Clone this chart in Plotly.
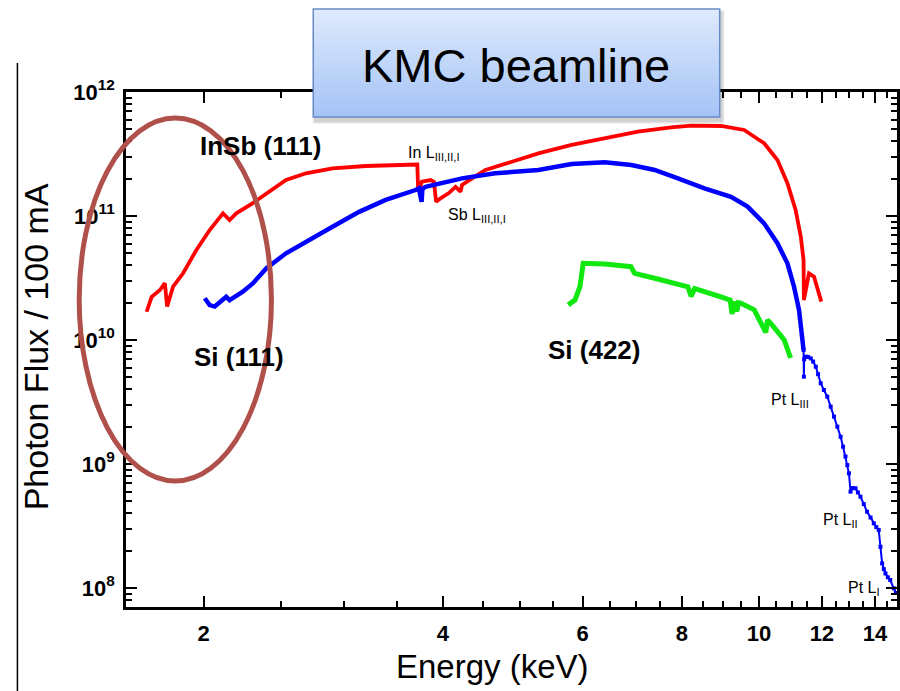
import plotly.graph_objects as go

# ---------------- data ----------------
insb111_energy = [1.695, 1.720, 1.762, 1.787, 1.799, 1.830, 1.884, 1.958, 2.035, 2.115,
                  2.156, 2.198, 2.306, 2.397, 2.467, 2.539, 2.690, 2.905, 3.199, 3.696,
                  3.715, 3.724, 3.764, 3.860, 3.898, 3.923, 3.974, 4.070, 4.150, 4.210,
                  4.229, 4.353, 4.525, 4.885, 5.276, 5.810, 6.396, 7.042, 7.754, 8.214,
                  8.958, 9.581, 10.15, 10.55, 10.86, 11.12, 11.29, 11.38, 11.39, 11.56,
                  11.73, 11.98]
insb111_flux = [1.69e10, 2.23e10, 2.53e10, 2.87e10, 1.86e10, 2.69e10, 3.45e10, 5.32e10, 7.71e10, 1.05e11,
                9.28e10, 1.05e11, 1.27e11, 1.52e11, 1.72e11, 1.95e11, 2.21e11, 2.42e11, 2.53e11, 2.58e11,
                2.60e11, 1.57e11, 1.89e11, 1.95e11, 1.89e11, 1.30e11, 1.39e11, 1.53e11, 1.72e11, 1.57e11,
                1.78e11, 2.01e11, 2.35e11, 2.74e11, 3.20e11, 3.74e11, 4.24e11, 4.79e11, 5.19e11, 5.35e11,
                5.32e11, 4.94e11, 3.86e11, 2.83e11, 1.84e11, 1.12e11, 6.81e10, 4.42e10, 2.10e10, 3.45e10,
                3.24e10, 2.04e10]

si111_energy = [2.006, 2.035, 2.065, 2.135, 2.156, 2.240, 2.306, 2.397, 2.539, 2.690,
                2.905, 3.138, 3.389, 3.696, 3.732, 3.761, 3.770, 3.804, 4.229, 4.656,
                5.276, 5.810, 6.396, 6.907, 7.391, 7.907, 8.538, 9.222, 9.675, 10.15,
                10.55, 10.86, 11.07, 11.23, 11.34, 11.38]
si111_flux = [2.17e10, 1.91e10, 1.86e10, 2.23e10, 2.10e10, 2.45e10, 2.86e10, 3.78e10, 5.00e10, 6.21e10,
              8.20e10, 1.08e11, 1.35e11, 1.62e11, 1.67e11, 1.30e11, 1.66e11, 1.72e11, 2.01e11, 2.21e11,
              2.35e11, 2.63e11, 2.71e11, 2.58e11, 2.35e11, 2.01e11, 1.67e11, 1.43e11, 1.19e11, 8.73e10,
              6.03e10, 4.15e10, 2.69e10, 1.75e10, 1.06e10, 8.30e9]

si111_tail_energy = [11.38, 11.39, 11.40, 11.45, 11.53, 11.62, 11.70, 11.79, 11.87, 11.96,
                     12.07, 12.19, 12.31, 12.43, 12.55, 12.67, 12.76, 12.85, 12.92, 12.98,
                     13.04, 13.13, 13.23, 13.32, 13.42, 13.55, 13.68, 13.82, 13.95, 14.05,
                     14.15, 14.22, 14.29, 14.36, 14.43, 14.53, 14.63, 14.78, 14.87]
si111_tail_flux = [8.30e9, 5.06e9, 7.00e9, 7.34e9, 7.30e9, 7.11e9, 6.70e9, 6.09e9, 5.30e9, 4.48e9,
                   3.95e9, 3.49e9, 2.90e9, 2.41e9, 2.00e9, 1.66e9, 1.38e9, 1.15e9, 9.80e8, 8.41e8,
                   5.98e8, 6.40e8, 6.37e8, 5.90e8, 5.45e8, 4.75e8, 4.12e8, 3.70e8, 3.32e8, 3.10e8,
                   2.94e8, 2.15e8, 1.58e8, 1.42e8, 1.31e8, 1.22e8, 1.16e8, 9.95e7, 9.12e7]

si422_energy = [5.753, 5.866, 5.952, 5.979, 6.008, 6.396, 6.900, 6.930, 6.976, 7.391,
                7.800, 8.138, 8.214, 8.300, 8.958, 9.200, 9.250, 9.300, 9.380, 9.420,
                9.491, 9.863, 10.20, 10.25, 10.35, 10.76, 10.96]
si422_flux = [1.92e10, 2.10e10, 2.69e10, 3.67e10, 4.15e10, 4.10e10, 3.90e10, 3.70e10, 3.45e10, 3.15e10,
              2.90e10, 2.69e10, 2.25e10, 2.60e10, 2.23e10, 2.10e10, 1.62e10, 2.05e10, 1.70e10, 2.00e10,
              1.98e10, 1.75e10, 1.15e10, 1.45e10, 1.36e10, 1.00e10, 7.16e9]

x_tick_vals = [2, 4, 6, 8, 10, 12, 14]
x_tick_text = ["2", "4", "6", "8", "10", "12", "14"]
x_minor_vals = [2.5, 3, 3.5, 4.5, 5, 5.5, 6.5, 7, 7.5, 8.5, 9, 9.5,
                10.5, 11, 11.5, 12.5, 13, 13.5, 14.5]
y_tick_vals = [1e8, 1e9, 1e10, 1e11, 1e12]
y_tick_text = ["10<sup>8</sup>", "10<sup>9</sup>", "10<sup>10</sup>", "10<sup>11</sup>", "10<sup>12</sup>"]
y_minor_vals = [m * 10 ** e for e in range(7, 12) for m in range(2, 10)]

# ---------------- layout geometry helpers (pixels -> paper) ----------------
W, H = 900, 691
L, R, T, B = 126, 0, 92, 84
PW, PH = W - L - R, H - T - B


def px(x):
    return (x - L) / PW


def py(y):
    return (H - B - y) / PH


FONT = "Liberation Sans, Arial, sans-serif"

fig = go.Figure()
fig.add_trace(go.Scatter(x=insb111_energy, y=insb111_flux, mode="lines",
                         line=dict(color="#ff0000", width=3.8), name="InSb (111)"))
fig.add_trace(go.Scatter(x=si111_energy, y=si111_flux, mode="lines",
                         line=dict(color="#0000ff", width=4.5), name="Si (111)"))
fig.add_trace(go.Scatter(x=si111_tail_energy, y=si111_tail_flux, mode="lines+markers",
                         line=dict(color="#0000ff", width=2),
                         marker=dict(symbol="square", size=4, color="#0000ff"),
                         name="Si (111) tail"))
fig.add_trace(go.Scatter(x=si422_energy, y=si422_flux, mode="lines",
                         line=dict(color="#10e810", width=5), name="Si (422)"))

axis_common = dict(
    type="log", showgrid=False, zeroline=False, showline=True, linewidth=2.5,
    linecolor="black", mirror="ticks", ticks="inside", ticklen=11, tickwidth=2,
    tickcolor="black",
    tickfont=dict(family=FONT, size=22, color="black", weight="bold"),
)
fig.update_xaxes(range=[0.20322, 1.17376], tickvals=x_tick_vals, ticktext=x_tick_text,
                 minor=dict(tickvals=x_minor_vals, ticks="inside", ticklen=6, tickwidth=2,
                            tickcolor="black"),
                 ticklabelstandoff=5, **axis_common)
fig.update_yaxes(range=[7.8468, 12.0], tickvals=y_tick_vals, ticktext=y_tick_text,
                 minor=dict(tickvals=y_minor_vals, ticks="inside", ticklen=6, tickwidth=2,
                            tickcolor="black"),
                 ticklabelstandoff=4, **axis_common)

shapes = []
# slide edge line
shapes.append(dict(type="line", xref="paper", yref="paper", x0=px(17), x1=px(17),
                   y0=py(63), y1=py(691), line=dict(color="black", width=1.5), layer="above"))
# ellipse highlight
shapes.append(dict(type="circle", xref="paper", yref="paper", x0=px(79), x1=px(272),
                   y0=py(481), y1=py(118), line=dict(color="rgb(176,80,74)", width=5),
                   layer="above"))
# title box shadow
for i, a in enumerate([0.05, 0.06, 0.08]):
    g = 3 - i
    shapes.append(dict(type="rect", xref="paper", yref="paper",
                       x0=px(314 - g + 2), x1=px(722 + g + 2), y0=py(117 + g + 4), y1=py(9 - g + 4),
                       line=dict(width=0), fillcolor=f"rgba(0,0,0,{a})", layer="above"))
# title box gradient (strips)
top_c, bot_c = (223, 234, 252), (164, 195, 246)
n = 36
y_top, y_bot = 9, 117
for i in range(n):
    t = (i + 0.5) / n
    c = tuple(round(top_c[k] + (bot_c[k] - top_c[k]) * t) for k in range(3))
    ya = y_top + (y_bot - y_top) * i / n
    yb = y_top + (y_bot - y_top) * (i + 1) / n
    shapes.append(dict(type="rect", xref="paper", yref="paper", x0=px(314), x1=px(722),
                       y0=py(yb + 0.3), y1=py(ya), line=dict(width=0),
                       fillcolor=f"rgb{c}", layer="above"))
shapes.append(dict(type="rect", xref="paper", yref="paper", x0=px(314), x1=px(722),
                   y0=py(117), y1=py(9), line=dict(color="#6a8cc6", width=1.5),
                   fillcolor="rgba(0,0,0,0)", layer="above"))
fig.update_layout(shapes=shapes)

ann = []


def add_text(text, x, y, size, bold=False, xanchor="center", angle=0):
    ann.append(dict(text=text, x=px(x), y=py(y), xref="paper", yref="paper",
                    xanchor=xanchor, yanchor="middle", showarrow=False, textangle=angle,
                    font=dict(family=FONT, size=size, color="black",
                              weight="bold" if bold else "normal")))


add_text("KMC beamline", 518, 65, 47)
add_text("Energy (keV)", 494, 666, 33)
add_text("Photon Flux / 100 mA", 36, 347, 34, angle=-90)
add_text("InSb (111)", 261, 146, 26, bold=True)
add_text("Si (111)", 239, 357, 26, bold=True)
add_text("Si (422)", 596, 350, 26, bold=True)
add_text("In L<sub>III,II,I</sub>", 407, 153, 16, xanchor="left")
add_text("Sb L<sub>III,II,I</sub>", 447, 215, 16, xanchor="left")
add_text("Pt L<sub>III</sub>", 772, 400, 16, xanchor="left")
add_text("Pt L<sub>II</sub>", 824, 520, 16, xanchor="left")
add_text("Pt L<sub>I</sub>", 849, 588, 16, xanchor="left")

fig.update_layout(
    width=W, height=H, margin=dict(l=L, r=R, t=T, b=B, pad=0),
    paper_bgcolor="white", plot_bgcolor="white", showlegend=False,
    annotations=ann,
)

fig.write_html("out.html", config={"displayModeBar": False},
               post_script="document.body.style.margin='0px';document.body.style.overflow='hidden';")
